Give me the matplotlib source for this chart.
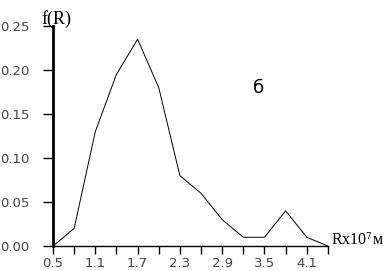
import matplotlib
matplotlib.use("Agg")
import matplotlib.pyplot as plt

# radius (x 10^-7 m) and distribution f(R)
r = [0.5, 0.8, 1.1, 1.4, 1.7, 2.0, 2.3, 2.6, 2.9, 3.2, 3.5, 3.8, 4.1, 4.4]
f = [0.0, 0.02, 0.13, 0.195, 0.235, 0.18, 0.08, 0.06, 0.03, 0.01, 0.01, 0.04, 0.01, 0.0]

xticks = [0.5, 1.1, 1.7, 2.3, 2.9, 3.5, 4.1]
xminor = [0.8, 1.4, 2.0, 2.6, 3.2, 3.8, 4.4]
yticks = [0.0, 0.05, 0.10, 0.15, 0.20, 0.25]

plt.rcParams['mathtext.fontset'] = 'stix'
fig = plt.figure(figsize=(3.84, 2.71), dpi=100)
ax = fig.add_axes([0.138, 0.092, 0.716, 0.812])

ax.plot(r, f, color='black', lw=0.7)

ax.set_xlim(0.5, 4.4)
ax.set_ylim(0, 0.25)
ax.set_xticks(xticks)
ax.set_xticks(xminor, minor=True)
ax.set_xticklabels([f"{v:.1f}" for v in xticks])
ax.set_yticks(yticks)
ax.set_yticklabels([f"{v:.2f}" for v in yticks])

for s in ['top', 'right']:
    ax.spines[s].set_visible(False)
ax.spines['left'].set_linewidth(2)
ax.spines['bottom'].set_linewidth(1)

ax.tick_params(axis='x', length=6, width=1, pad=2, labelsize=9.5)
ax.tick_params(axis='x', which='minor', length=6, width=1)
ax.tick_params(axis='y', length=7, width=1, pad=10, labelsize=9.5)
for t in ax.get_xticklabels() + ax.get_yticklabels():
    t.set_color('#444444')

ax.text(3.41, 0.18, "б", fontsize=13, ha='center', va='center', family='DejaVu Sans')
fig.text(0.146, 0.93, "f(R)", fontsize=13, ha='center', va='center', family='Liberation Serif')
fig.text(0.862, 0.095, "Rx10$^{7}$м", fontsize=11.5, ha='left', va='baseline', family='Liberation Serif')

fig.savefig("out.png", dpi=100)
